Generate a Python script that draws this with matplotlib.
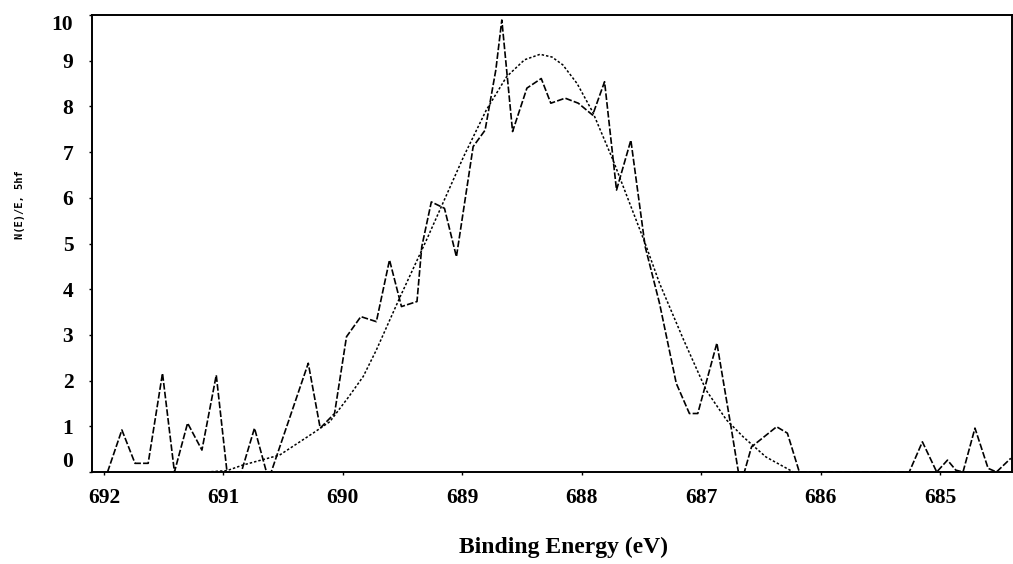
import matplotlib
matplotlib.use('Agg')
import matplotlib.pyplot as plt

# measured spectrum (binding energy, counts)
energy = [691.97, 691.85, 691.74, 691.63, 691.51, 691.41, 691.30, 691.18, 691.06, 690.97,
          690.85, 690.74, 690.64, 690.60, 690.29, 690.19, 690.07, 689.97, 689.85, 689.72,
          689.61, 689.51, 689.38, 689.34, 689.26, 689.15, 689.05, 688.91, 688.81, 688.72,
          688.67, 688.58, 688.46, 688.34, 688.26, 688.14, 688.03, 687.91, 687.81, 687.71,
          687.59, 687.47, 687.35, 687.21, 687.10, 687.03, 686.87, 686.75, 686.69, 686.64,
          686.58, 686.37, 686.28, 686.18, 685.26, 685.15, 685.03, 684.94, 684.87, 684.81,
          684.71, 684.60, 684.53, 684.41]
counts = [0.0, 0.92, 0.19, 0.19, 2.16, 0.0, 1.07, 0.48, 2.12, 0.0,
          0.0, 0.96, 0.0, 0.0, 2.38, 0.96, 1.28, 2.96, 3.40, 3.29,
          4.64, 3.62, 3.73, 4.93, 5.91, 5.77, 4.71, 7.12, 7.48, 8.80,
          9.89, 7.45, 8.40, 8.61, 8.07, 8.18, 8.07, 7.81, 8.54, 6.17,
          7.26, 4.93, 3.69, 1.94, 1.28, 1.28, 2.82, 0.96, 0.0, 0.0,
          0.55, 0.99, 0.85, 0.0, 0.0, 0.66, 0.0, 0.26, 0.04, 0.0,
          0.96, 0.08, 0.0, 0.30]

# fitted envelope
fit_energy = [691.14, 690.97, 690.84, 690.53, 690.25, 690.11, 689.95, 689.83, 689.72, 689.52,
              689.30, 688.99, 688.80, 688.63, 688.48, 688.35, 688.25, 688.16, 688.04, 687.91,
              687.74, 687.47, 687.35, 687.15, 686.96, 686.79, 686.65, 686.46, 686.23]
fit_counts = [0.0, 0.03, 0.15, 0.37, 0.85, 1.10, 1.65, 2.09, 2.67, 3.84,
              5.08, 6.90, 7.92, 8.65, 9.02, 9.14, 9.08, 8.91, 8.50, 7.88,
              6.83, 5.00, 4.13, 2.90, 1.79, 1.14, 0.77, 0.33, 0.0]

x_ticks = [692, 691, 690, 689, 688, 687, 686, 685]
y_ticks = list(range(0, 11))

serif = 'Liberation Serif'

fig = plt.figure(figsize=(10.13, 5.64), dpi=100)
ax = fig.add_axes([92 / 1013, 1 - 472 / 564, 920 / 1013, 457 / 564])

ax.plot(energy, counts, color='black', lw=1.2, linestyle=(0, (4.0, 1.3)))
ax.plot(fit_energy, fit_counts, color='black', lw=1.1, linestyle=(0, (1.6, 1.3)))

ax.set_xlim(692.10, 684.40)
ax.set_ylim(0, 10)
ax.set_xticks(x_ticks)
ax.set_xticklabels([str(t) for t in x_ticks], fontfamily=serif, fontweight='bold', fontsize=15.5)
ax.set_yticks(y_ticks)
ax.set_yticklabels([str(t) for t in y_ticks], fontfamily=serif, fontweight='bold', fontsize=15.5)
labels = ax.get_yticklabels()
labels[0].set_va('bottom')
labels[-1].set_va('top')

ax.tick_params(axis='both', direction='out', length=2.5, width=1.0)
ax.tick_params(axis='x', pad=9)
ax.tick_params(axis='y', pad=11)
for s in ax.spines.values():
    s.set_linewidth(1.4)

fig.text(563 / 1013, 1 - 547 / 564, 'Binding Energy (eV)', fontfamily=serif, fontweight='bold',
         fontsize=17, ha='center', va='center')
fig.text(20 / 1013, 1 - 205 / 564, 'N(E)/E, 5hf', fontfamily='DejaVu Sans Mono', fontweight='bold',
         fontsize=7.5, rotation=90, ha='center', va='center')

fig.savefig('out.png', dpi=100)
